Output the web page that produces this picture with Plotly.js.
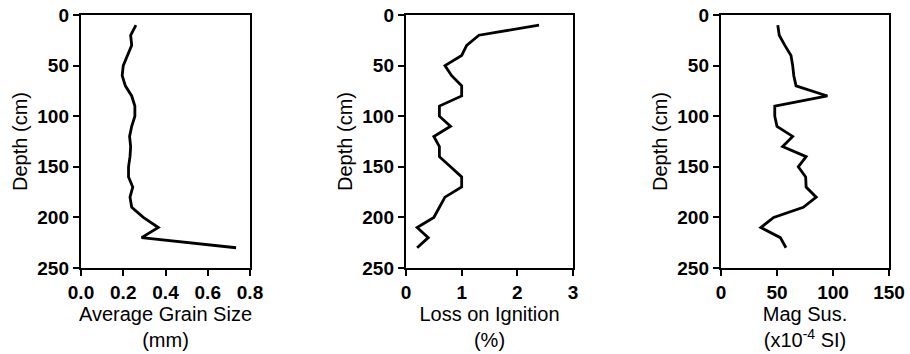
<!DOCTYPE html>
<html>
<head>
<meta charset="utf-8">
<script src="https://cdn.plot.ly/plotly-3.0.1.min.js"></script>
<style>html,body{margin:0;padding:0;background:#fff;}#chart{width:910px;height:354px;}</style>
</head>
<body>
<div id="chart"></div>
<script>
const depth = [10,20,30,40,50,60,70,80,90,100,110,120,130,140,150,160,170,180,190,200,210,220,230];
const grainSize = [0.26,0.235,0.24,0.22,0.20,0.195,0.21,0.24,0.255,0.255,0.24,0.23,0.235,0.232,0.225,0.225,0.245,0.232,0.24,0.295,0.366,0.287,0.734];
const loi = [2.39,1.31,1.09,1.0,0.70,0.82,1.0,1.0,0.6,0.6,0.8,0.5,0.6,0.6,0.8,1.0,1.0,0.7,0.6,0.5,0.2,0.4,0.2];
const magSus = [50.7,52,57,62.5,64,65,67,95,48,48,50,64,55,76,69,75.6,76,85,73.5,47,35.6,53,58];

const xTitles = ['Average Grain Size<br>(mm)', 'Loss on Ignition<br>(%)', 'Mag Sus.<br>(x10<sup>-4</sup> SI)'];
const yTitle = 'Depth (cm)';
const xTicks = [[0,0.2,0.4,0.6,0.8],[0,1,2,3],[0,50,100,150]];
const xTickText = [['0.0','0.2','0.4','0.6','0.8'],['0','1','2','3'],['0','50','100','150']];
const xRanges = [[0,0.8],[0,3],[0,150]];
const yTicks = [0,50,100,150,200,250];

const W = 910, H = 354;
const px = [[81,250],[406,573],[721,889]];
const yTopPx = 15, yBotPx = 268;
const yDom = [(H - yBotPx)/H, (H - yTopPx)/H];

const tickFont = {family:'Liberation Sans, Arial, sans-serif', size:19, weight:'bold', color:'#000'};
const titleFont = {family:'Liberation Sans, Arial, sans-serif', size:20, color:'#000'};

const series = [grainSize, loi, magSus];
const traces = series.map((s,i)=>({
  x: s, y: depth, type:'scatter', mode:'lines',
  line:{color:'#000', width:2.8},
  xaxis: i===0?'x':'x'+(i+1), yaxis: i===0?'y':'y'+(i+1),
  showlegend:false, hoverinfo:'skip'
}));

const layout = {
  width: W, height: H,
  margin:{l:0,r:0,t:0,b:0},
  paper_bgcolor:'#fff', plot_bgcolor:'#fff',
  showlegend:false
};
for (let i=0;i<3;i++){
  const xs = i===0?'':String(i+1);
  layout['xaxis'+xs] = {
    domain:[px[i][0]/W, px[i][1]/W],
    anchor: 'y'+xs,
    range: xRanges[i],
    tickmode:'array', tickvals:xTicks[i], ticktext:xTickText[i],
    ticks:'outside', ticklen:6, tickwidth:2, tickcolor:'#000',
    showline:true, linecolor:'#000', linewidth:2.2, mirror:true,
    showgrid:false, zeroline:false,
    tickfont:tickFont,
    title:{text:xTitles[i], font:titleFont, standoff:0},
    automargin:false
  };
  layout['yaxis'+xs] = {
    domain:yDom,
    anchor: 'x'+xs,
    range:[250,0],
    tickmode:'array', tickvals:yTicks,
    ticks:'outside', ticklen:6, tickwidth:2, tickcolor:'#000',
    showline:true, linecolor:'#000', linewidth:2.2, mirror:true,
    showgrid:false, zeroline:false,
    tickfont:tickFont,
    title:{text:yTitle, font:titleFont, standoff:4},
    automargin:false
  };
}
Plotly.newPlot('chart', traces, layout, {displayModeBar:false, staticPlot:true});
</script>
</body>
</html>
